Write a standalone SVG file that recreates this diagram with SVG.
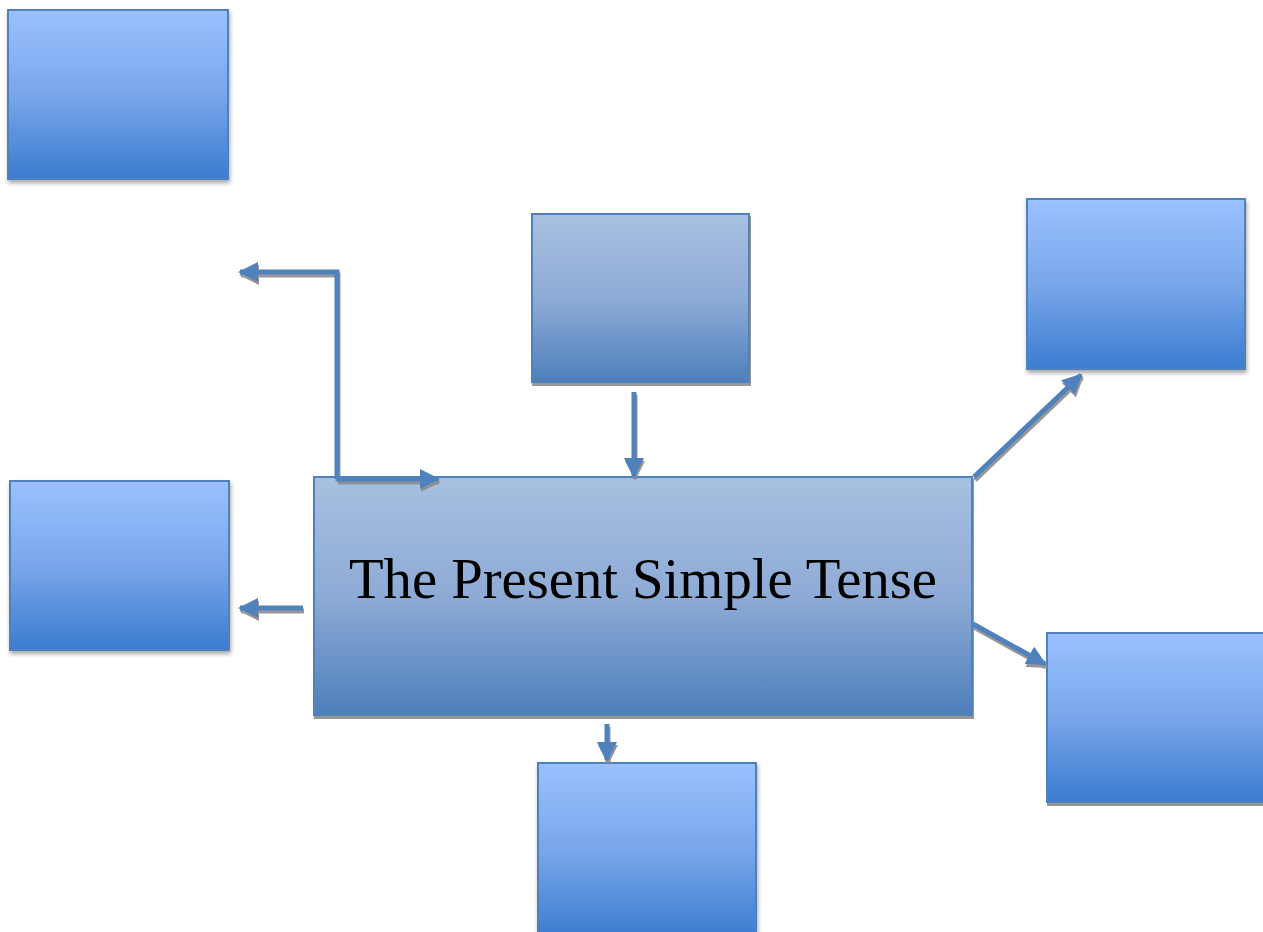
<svg xmlns="http://www.w3.org/2000/svg" width="1263" height="932" viewBox="0 0 1263 932">
<style>
.lb{fill:url(#gLight);stroke:#4f81bd;stroke-width:2}
.mb{fill:url(#gMain);stroke:#4f81bd;stroke-width:2}
.ar{fill:none;stroke:#4f81bd;stroke-width:5;marker-end:url(#ah)}
.t{font-family:"Liberation Serif","DejaVu Serif",serif;font-size:56px;fill:#000}
</style>
<defs>
<linearGradient id="gLight" x1="0" y1="0" x2="0" y2="1">
<stop offset="0" stop-color="#9bc1ff"/>
<stop offset="0.5" stop-color="#79a6ea"/>
<stop offset="1" stop-color="#3b7ccf"/>
</linearGradient>
<linearGradient id="gMain" x1="0" y1="0" x2="0" y2="1">
<stop offset="0" stop-color="#a8c0e0"/>
<stop offset="0.5" stop-color="#8eabd6"/>
<stop offset="1" stop-color="#4e7fbb"/>
</linearGradient>
<filter id="soft" x="-10%" y="-10%" width="130%" height="130%">
<feDropShadow dx="1" dy="3" stdDeviation="2" flood-color="#000" flood-opacity="0.35"/>
</filter>
<filter id="hard" x="-10%" y="-10%" width="130%" height="130%">
<feDropShadow dx="1" dy="3" stdDeviation="0.3" flood-color="#8c8c8c" flood-opacity="0.9"/>
</filter>
<marker id="ah" viewBox="0 0 10 10" refX="9" refY="5" markerWidth="4" markerHeight="4" orient="auto" markerUnits="strokeWidth">
<path d="M0,0 L10,5 L0,10 Z" fill="#4f81bd"/>
</marker>
</defs>
<rect width="1263" height="932" fill="#fff"/>
<g id="node-topleft" filter="url(#soft)"><rect class="lb" x="8" y="10" width="220" height="169"/></g>
<g id="node-topcenter" filter="url(#hard)"><rect class="mb" x="532" y="214" width="217" height="168"/></g>
<g id="node-topright" filter="url(#soft)"><rect class="lb" x="1027" y="199" width="218" height="170"/></g>
<g id="node-left" filter="url(#soft)"><rect class="lb" x="10" y="481" width="219" height="169"/></g>
<g id="node-bottomright" filter="url(#hard)"><rect class="lb" x="1047" y="633" width="220" height="169"/></g>
<g id="node-bottom" filter="url(#soft)"><rect class="lb" x="538" y="763" width="218" height="175"/></g>
<g id="node-main" filter="url(#hard)">
<rect class="mb" x="314" y="477" width="658" height="238"/>
<text class="t" x="643" y="598" text-anchor="middle" textLength="588" lengthAdjust="spacingAndGlyphs">The Present Simple Tense</text>
</g>
<g id="connectors" filter="url(#hard)">
<path class="ar" d="M337,479 L337,272 L240,272"/>
<path class="ar" d="M337,479 L438,479"/>
<path class="ar" d="M634,392 L634,476"/>
<path class="ar" d="M303,608 L240,608"/>
<path class="ar" d="M607,724 L607,760"/>
<path class="ar" d="M974,477 L1081,375"/>
<path class="ar" d="M973,624 L1045,664"/>
</g>
</svg>
